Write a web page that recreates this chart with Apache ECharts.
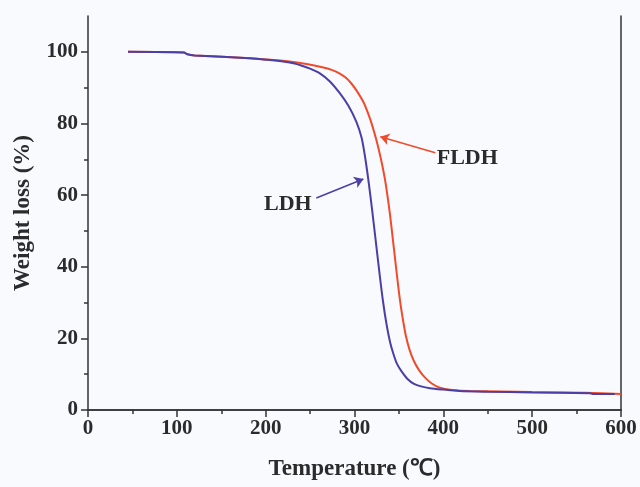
<!DOCTYPE html>
<html>
<head>
<meta charset="utf-8">
<script src="https://cdn.jsdelivr.net/npm/echarts@6/dist/echarts.min.js"></script>
<style>
  html, body { margin: 0; padding: 0; background: #f9fafd; }
  #tga { width: 640px; height: 487px; }
</style>
</head>
<body>
<div id="tga"></div>
<script>
// TGA curves: temperature (C) and remaining weight (%)
var ldhTemp = [45, 108, 112, 120, 182, 200, 227, 240, 250, 261, 272, 283, 293, 302, 308, 312, 316, 320, 324, 328, 332, 336, 340, 344, 348, 353, 360, 367, 375, 385, 400, 418, 450, 500, 565, 568, 593];
var ldhWeight = [100, 99.8, 99.3, 99.0, 98.2, 97.8, 97.0, 96.2, 95.3, 94.0, 91.8, 88.6, 85.0, 80.5, 76.0, 70.5, 63.5, 55.5, 47.0, 38.5, 30.5, 24.0, 19.0, 15.5, 12.8, 10.8, 8.6, 7.3, 6.6, 6.1, 5.7, 5.3, 5.1, 4.9, 4.7, 4.5, 4.5];
var fldhTemp = [45, 108, 112, 120, 182, 227, 246, 265, 275, 283, 290, 296, 302, 310, 315, 320, 325, 330, 334, 337, 340, 343, 346, 349, 352, 355, 358, 362, 367, 373, 380, 387, 396, 410, 430, 500, 560, 600];
var fldhWeight = [100, 99.8, 99.3, 99.0, 98.2, 97.3, 96.6, 95.6, 94.9, 94.0, 92.8, 91.3, 89.3, 86.0, 83.0, 79.4, 75.0, 69.8, 64.8, 60.0, 54.5, 48.0, 41.5, 35.0, 29.2, 24.5, 20.5, 16.8, 13.6, 11.0, 8.9, 7.4, 6.2, 5.6, 5.3, 5.0, 4.8, 4.5];

var yMajorTicks = [0, 20, 40, 60, 80, 100];
var yMinorTicks = [10, 30, 50, 70, 90];

function zip(xs, ys) {
  return xs.map(function (x, i) { return [x, ys[i]]; });
}

var serifBold = { fontFamily: 'Liberation Serif', fontWeight: 'bold', color: '#2b2b2b' };
var axisColor = '#333';

var myChart = echarts.init(document.getElementById('tga'));
myChart.setOption({
  backgroundColor: '#f9fafd',
  animation: false,
  grid: { left: 88, right: 19, top: 16, bottom: 77 },
  xAxis: [
    {
      type: 'value',
      min: 0, max: 600, interval: 100,
      name: 'Temperature (℃)',
      nameLocation: 'middle',
      nameGap: 48,
      nameTextStyle: Object.assign({ fontSize: 23 }, serifBold),
      axisLine: { lineStyle: { color: axisColor, width: 1.5 } },
      axisTick: { length: 7, lineStyle: { color: axisColor, width: 1.5 } },
      minorTick: { show: true, splitNumber: 2, length: 4, lineStyle: { color: axisColor, width: 1.5 } },
      axisLabel: Object.assign({ fontSize: 21, margin: 8 }, serifBold),
      splitLine: { show: false }
    },
    {
      type: 'value', position: 'top',
      min: 0, max: 600,
      axisLine: { show: true, lineStyle: { color: axisColor, width: 1.5 } },
      axisTick: { show: false }, axisLabel: { show: false }, splitLine: { show: false }
    }
  ],
  yAxis: [
    {
      type: 'value',
      min: 0, max: 110,
      name: 'Weight loss (%)',
      nameLocation: 'middle',
      nameGap: 53,
      nameTextStyle: Object.assign({ fontSize: 23 }, serifBold),
      axisLine: { show: true, lineStyle: { color: axisColor, width: 1.5 } },
      axisTick: { show: true, length: 7, customValues: yMajorTicks, lineStyle: { color: axisColor, width: 1.5 } },
      axisLabel: Object.assign({ fontSize: 21, margin: 10, customValues: yMajorTicks }, serifBold),
      splitLine: { show: false }
    },
    {
      type: 'value', position: 'left',
      min: 0, max: 110,
      axisLine: { show: false },
      axisTick: { show: true, length: 4, customValues: yMinorTicks, lineStyle: { color: axisColor, width: 1.5 } },
      axisLabel: { show: false, customValues: yMinorTicks },
      splitLine: { show: false }
    },
    {
      type: 'value', position: 'right',
      min: 0, max: 110,
      axisLine: { show: true, lineStyle: { color: axisColor, width: 1.5 } },
      axisTick: { show: false }, axisLabel: { show: false }, splitLine: { show: false }
    }
  ],
  series: [
    {
      name: 'FLDH',
      type: 'line',
      data: zip(fldhTemp, fldhWeight),
      showSymbol: false,
      smooth: 0.25,
      lineStyle: { color: '#ef4b2c', width: 2 },
      markLine: {
        silent: true,
        symbol: ['none', 'arrow'],
        symbolSize: 9,
        label: { show: false },
        lineStyle: { color: '#ef4b2c', width: 1.5, type: 'solid' },
        data: [[{ coord: [391, 71.8] }, { coord: [329, 76.3] }]]
      },
      markPoint: {
        silent: true,
        symbol: 'rect', symbolSize: 1,
        itemStyle: { color: 'transparent' },
        label: Object.assign({ show: true, formatter: 'FLDH', fontSize: 22, position: 'inside' }, serifBold),
        data: [{ coord: [427, 70.4] }]
      }
    },
    {
      name: 'LDH',
      type: 'line',
      data: zip(ldhTemp, ldhWeight),
      showSymbol: false,
      smooth: 0.25,
      lineStyle: { color: '#4a3fa6', width: 2 },
      markLine: {
        silent: true,
        symbol: ['none', 'arrow'],
        symbolSize: 9,
        label: { show: false },
        lineStyle: { color: '#4a3fa6', width: 1.5, type: 'solid' },
        data: [[{ coord: [257, 59.2] }, { coord: [310, 64.5] }]]
      },
      markPoint: {
        silent: true,
        symbol: 'rect', symbolSize: 1,
        itemStyle: { color: 'transparent' },
        label: Object.assign({ show: true, formatter: 'LDH', fontSize: 22, position: 'inside' }, serifBold),
        data: [{ coord: [225, 57.5] }]
      }
    }
  ]
});
</script>
</body>
</html>
